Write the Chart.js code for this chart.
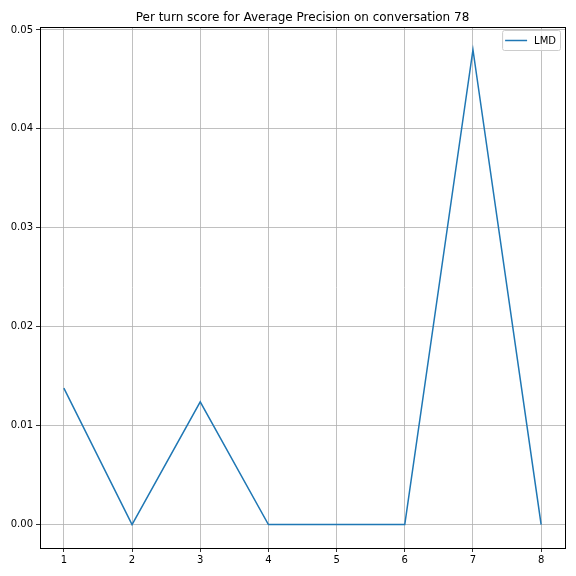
<!DOCTYPE html>
<html>
<head>
<meta charset="utf-8">
<script src="https://cdn.jsdelivr.net/npm/chart.js@4"></script>
<style>
  html, body { margin: 0; padding: 0; background: #fff; }
  #wrap { width: 576px; height: 576px; }
</style>
</head>
<body>
<div id="wrap"><canvas id="Chart" width="576" height="576"></canvas></div>
<script>
// data
var turns = [1, 2, 3, 4, 5, 6, 7, 8];
var lmdScores = [0.0138, 0, 0.0124, 0, 0, 0, 0.0480, 0];
var yTicks = [0, 0.01, 0.02, 0.03, 0.04, 0.05];
var titleText = 'Per turn score for Average Precision on conversation 78';
var seriesName = 'LMD';

var FONT = 'DejaVu Sans, sans-serif';

// frame + title + legend drawn like matplotlib
var mplBits = {
	id: 'mplBits',
	afterDraw: function(chart) {
		var c = chart.ctx, a = chart.chartArea;
		c.save();
		c.strokeStyle = '#000';
		c.lineWidth = 1;
		c.strokeRect(Math.round(a.left) + 0.5, Math.round(a.top) + 0.5, Math.round(a.right - a.left), Math.round(a.bottom - a.top));

		c.fillStyle = '#000';
		c.font = '12px ' + FONT;
		c.textAlign = 'center';
		c.textBaseline = 'alphabetic';
		c.fillText(titleText, (a.left + a.right) / 2, 21);

		// legend box, upper right
		c.font = '10px ' + FONT;
		var tw = c.measureText(seriesName).width;
		var bw = tw + 36, bh = 20;
		var bx = a.right - 5 - bw, by = a.top + 3;
		c.fillStyle = 'rgba(255,255,255,0.8)';
		c.strokeStyle = '#cccccc';
		c.beginPath();
		c.roundRect(bx + 0.5, by + 0.5, bw, bh, 2);
		c.fill();
		c.stroke();
		c.strokeStyle = '#1f77b4';
		c.lineWidth = 1.5;
		c.beginPath();
		c.moveTo(bx + 3, by + 10.5);
		c.lineTo(bx + 25, by + 10.5);
		c.stroke();
		c.fillStyle = '#000';
		c.textAlign = 'left';
		c.textBaseline = 'middle';
		c.fillText(seriesName, bx + 32, by + 11);
		c.restore();
	}
};

var ctx = document.getElementById('Chart').getContext('2d');
var chart = new Chart(ctx, {
	type: 'line',
	data: {
		datasets: [{
			label: seriesName,
			data: turns.map(function(t, i) { return { x: t, y: lmdScores[i] }; }),
			borderColor: '#1f77b4',
			borderWidth: 1.5,
			pointRadius: 0,
			tension: 0,
			fill: false
		}]
	},
	options: {
		responsive: false,
		animation: false,
		layout: { padding: { top: 27, right: 11, bottom: 0, left: 0 } },
		plugins: {
			legend: { display: false },
			title: { display: false },
			tooltip: { enabled: false }
		},
		scales: {
			x: {
				type: 'linear',
				min: 0.65,
				max: 8.35,
				afterBuildTicks: function(s) { s.ticks = turns.map(function(v) { return { value: v }; }); },
				afterFit: function(s) { s.height = 28; },
				ticks: {
					color: '#000',
					font: { family: FONT, size: 10 },
					padding: 2,
					maxRotation: 0,
					callback: function(v) { return String(v); }
				},
				grid: { color: '#b0b0b0', lineWidth: 0.8, tickColor: '#000', tickLength: 4 },
				border: { display: true, color: '#000' }
			},
			y: {
				type: 'linear',
				min: -0.00237,
				max: 0.0503,
				afterBuildTicks: function(s) { s.ticks = yTicks.map(function(v) { return { value: v }; }); },
				afterFit: function(s) { s.width = 40; },
				ticks: {
					color: '#000',
					font: { family: FONT, size: 10 },
					padding: 3,
					callback: function(v) { return v.toFixed(2); }
				},
				grid: { color: '#b0b0b0', lineWidth: 0.8, tickColor: '#000', tickLength: 4 },
				border: { display: true, color: '#000' }
			}
		}
	},
	plugins: [mplBits]
});
</script>
</body>
</html>
